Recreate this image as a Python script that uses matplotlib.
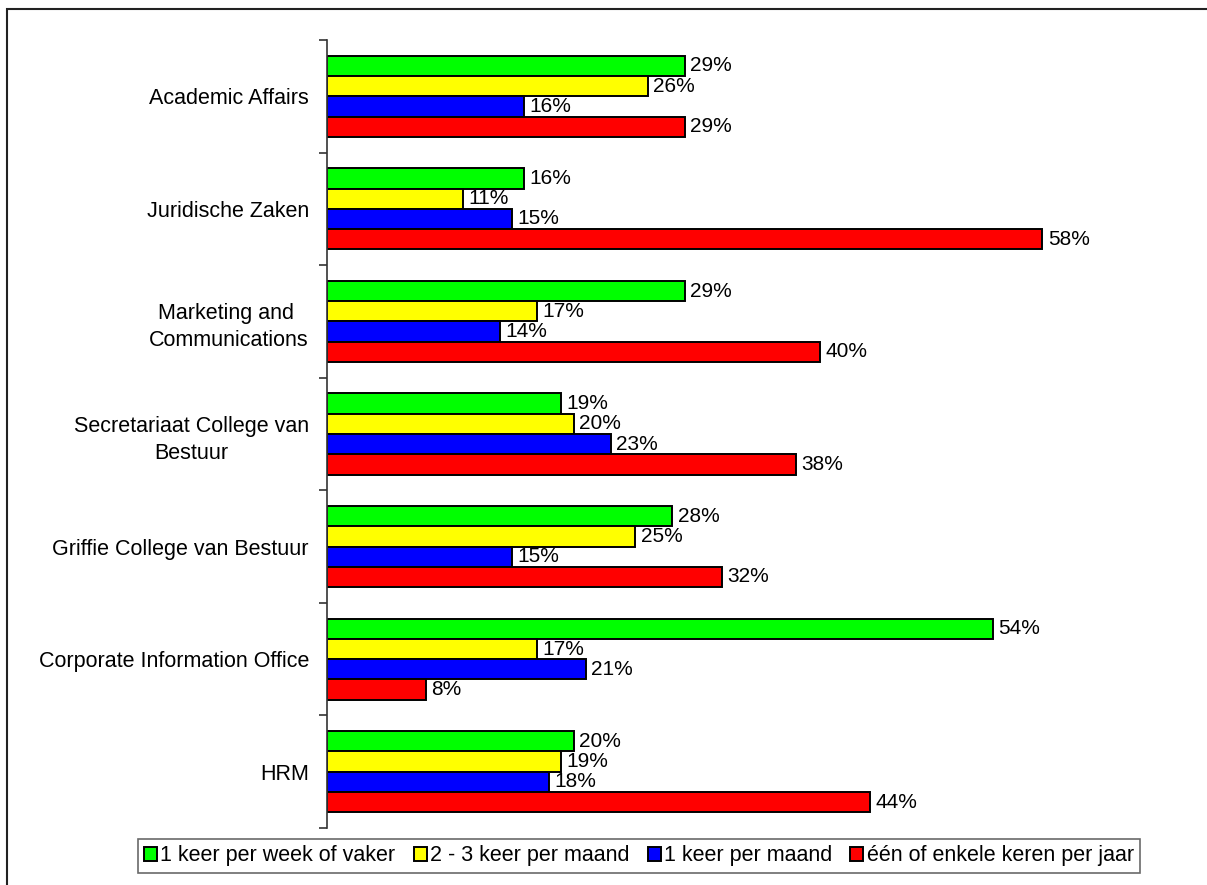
import numpy as np
import matplotlib.pyplot as plt
from matplotlib.patches import Rectangle

plt.rcParams['font.family'] = ['Liberation Sans', 'DejaVu Sans']

afdelingen = ['Academic Affairs', 'Juridische Zaken', 'Marketing and \nCommunications',
              'Secretariaat College van\nBestuur', 'Griffie College van Bestuur',
              'Corporate Information Office', 'HRM']
reeksen = ['1 keer per week of vaker', '2 - 3 keer per maand', '1 keer per maand',
           'één of enkele keren per jaar']
kleuren = ['#00ff00', '#ffff00', '#0000ff', '#ff0000']

week = [29, 16, 29, 19, 28, 54, 20]
maand_2_3 = [26, 11, 17, 20, 25, 17, 19]
maand_1 = [16, 15, 14, 23, 15, 21, 18]
jaar = [29, 58, 40, 38, 32, 8, 44]
waarden = [week, maand_2_3, maand_1, jaar]

fs = 15.5

fig = plt.figure(figsize=(12.07, 8.85), dpi=100)
ax = fig.add_axes([0.2709, 0.0644, 0.7151, 0.8904])

y = np.arange(len(afdelingen))
h = 0.18
for i, (vals, kleur, naam) in enumerate(zip(waarden, kleuren, reeksen)):
    pos = y + (i - 1.5) * h
    bars = ax.barh(pos, vals, height=h, color=kleur, edgecolor='black',
                   linewidth=1.4, label=naam)
    for b, v in zip(bars, vals):
        ax.annotate(f'{v}%', (b.get_width(), b.get_y() + b.get_height() / 2),
                    xytext=(4, 0), textcoords='offset points',
                    va='center', ha='left', fontsize=15)

ax.set_xlim(0, 70)
ax.set_ylim(len(afdelingen) - 0.5, -0.5)
ax.set_xticks([])
ax.set_yticks(np.arange(-0.5, len(afdelingen)), labels=[])
ax.set_yticks(y, labels=afdelingen, minor=True)
ax.tick_params(axis='y', which='major', direction='out', length=6, width=1.2, color='#333333')
ax.tick_params(axis='y', which='minor', length=0, pad=13, labelsize=fs)
for lbl in ax.get_yticklabels(minor=True):
    lbl.set_multialignment('center')
    lbl.set_linespacing(1.4)
for s in ['top', 'right', 'bottom']:
    ax.spines[s].set_visible(False)
ax.spines['left'].set_color('#333333')
ax.spines['left'].set_linewidth(1.2)

leg = fig.legend(loc='center', bbox_to_anchor=(0.5294, 0.0328), ncol=4, fontsize=fs,
                 frameon=True, fancybox=False, handlelength=0.6, handleheight=0.6,
                 handletextpad=0.15, columnspacing=0.85, borderpad=0.3,
                 borderaxespad=0)
leg.get_frame().set_edgecolor('#444444')
leg.get_frame().set_linewidth(1.2)

# frame around the whole figure (top and left edges show)
fig.patches.append(Rectangle((7 / 1207, -0.1), 1.2, (885 - 9) / 885 + 0.1,
                             transform=fig.transFigure, fill=False,
                             edgecolor='#222222', linewidth=1.5))

fig.savefig('out.png', dpi=100)
